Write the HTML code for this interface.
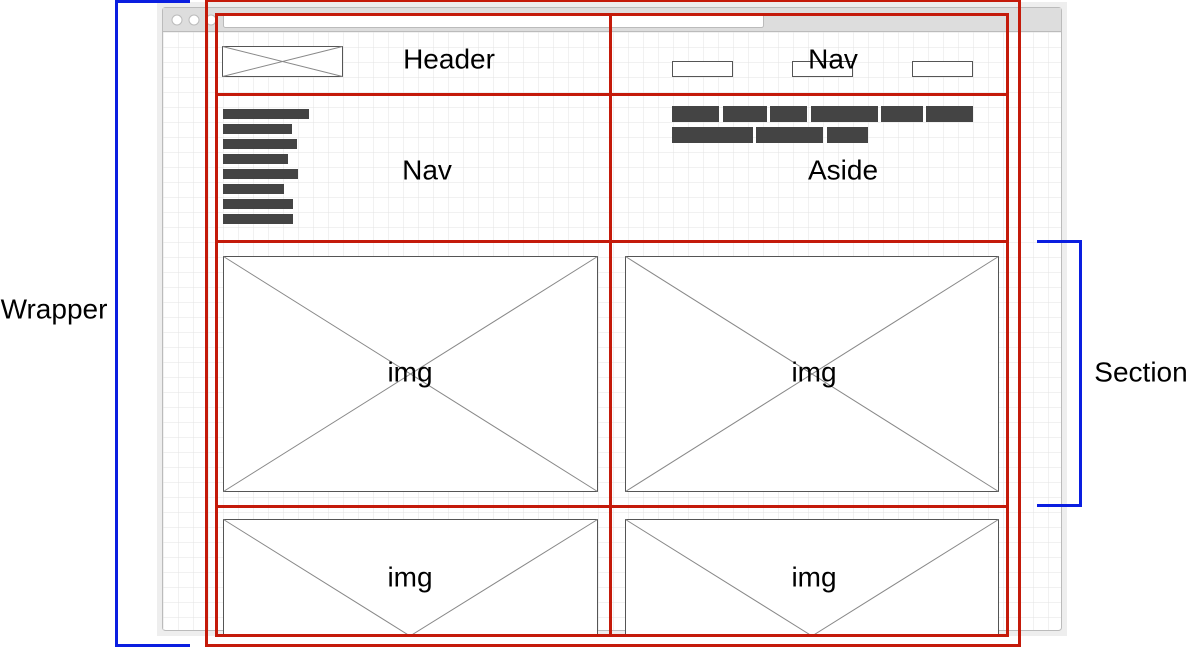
<!DOCTYPE html>
<html><head><meta charset="utf-8"><style>
html,body{margin:0;padding:0;background:#fff;}
svg{display:block;font-family:"Liberation Sans",Arial,sans-serif;}
</style></head><body>
<svg width="1190" height="648" viewBox="0 0 1190 648">
<defs>
<pattern id="grid" width="15" height="15" patternUnits="userSpaceOnUse" x="163" y="32">
<path d="M15 0H0V15" fill="none" stroke="#e3e3e3" stroke-width="1"/>
</pattern>
</defs>
<g>
<rect x="157" y="2" width="910" height="634" fill="#eee"/>
<rect x="162.5" y="7.5" width="899" height="623" rx="3" fill="#fff" stroke="#bbb"/>
<rect x="163" y="32" width="898" height="598" fill="url(#grid)"/>
<rect x="163" y="8" width="898" height="23" fill="#ddd"/>
<line x1="163" y1="31.5" x2="1061" y2="31.5" stroke="#bbb"/>
<circle cx="177" cy="20" r="5" fill="#fff" stroke="#bbb"/>
<circle cx="194" cy="20" r="5" fill="#fff" stroke="#bbb"/>
<circle cx="211" cy="20" r="5" fill="#fff" stroke="#bbb"/>
<rect x="223.5" y="13.5" width="540" height="14" rx="2" fill="#fff" stroke="#bbb"/>
</g>
<g stroke="#555" fill="#fff" stroke-width="1">
<rect x="222.5" y="46.5" width="120" height="30"/>
<line x1="222.5" y1="46.5" x2="342.5" y2="76.5" stroke="#888"/><line x1="342.5" y1="46.5" x2="222.5" y2="76.5" stroke="#888"/>
<rect x="672.5" y="61.5" width="60" height="15"/>
<rect x="792.5" y="61.5" width="60" height="15"/>
<rect x="912.5" y="61.5" width="60" height="15"/>
<g><rect x="223.5" y="256.5" width="374" height="235"/><line x1="223.5" y1="256.5" x2="597.5" y2="491.5" stroke="#888"/><line x1="597.5" y1="256.5" x2="223.5" y2="491.5" stroke="#888"/></g>
<g><rect x="625.5" y="256.5" width="373" height="235"/><line x1="625.5" y1="256.5" x2="998.5" y2="491.5" stroke="#888"/><line x1="998.5" y1="256.5" x2="625.5" y2="491.5" stroke="#888"/></g>
<g><rect x="223.5" y="519.5" width="374" height="117"/><polyline points="223.5,519.5 410,636 597.5,519.5" fill="none" stroke="#888"/></g>
<g><rect x="625.5" y="519.5" width="373" height="117"/><polyline points="625.5,519.5 812,636 998.5,519.5" fill="none" stroke="#888"/></g>
</g>
<g fill="#444">
<rect x="223" y="109" width="86" height="10"/><rect x="223" y="124" width="69" height="10"/>
<rect x="223" y="139" width="74" height="10"/><rect x="223" y="154" width="65" height="10"/>
<rect x="223" y="169" width="75" height="10"/><rect x="223" y="184" width="61" height="10"/>
<rect x="223" y="199" width="70" height="10"/><rect x="223" y="214" width="70" height="10"/>
</g>
<g fill="#444">
<rect x="672" y="106" width="47" height="16"/><rect x="723" y="106" width="44" height="16"/>
<rect x="770" y="106" width="37" height="16"/><rect x="811" y="106" width="67" height="16"/>
<rect x="881" y="106" width="42" height="16"/><rect x="926" y="106" width="47" height="16"/>
<rect x="672" y="127" width="81" height="16"/><rect x="756" y="127" width="67" height="16"/>
<rect x="827" y="127" width="41" height="16"/>
</g>
<g fill="none" stroke="#c41a0a" stroke-width="3">
<rect x="206.5" y="0.5" width="813" height="645"/>
<rect x="216.5" y="14.5" width="791" height="621"/>
<line x1="216" y1="94.5" x2="1008" y2="94.5"/>
<line x1="216" y1="241.5" x2="1008" y2="241.5"/>
<line x1="216" y1="506.5" x2="1008" y2="506.5"/>
<line x1="610.5" y1="14" x2="610.5" y2="636"/>
</g>
<polyline points="190,1.5 116.5,1.5 116.5,645.5 190,645.5" fill="none" stroke="#0a1ee0" stroke-width="3"/>
<polyline points="1037,241.5 1080.5,241.5 1080.5,505.5 1037,505.5" fill="none" stroke="#0a1ee0" stroke-width="3"/>
<g font-size="28" fill="#000" text-anchor="middle" dominant-baseline="central">
<text x="449" y="59">Header</text>
<text x="833" y="59">Nav</text>
<text x="427" y="170">Nav</text>
<text x="843" y="170">Aside</text>
<text x="410" y="372">img</text>
<text x="814" y="372">img</text>
<text x="410" y="577">img</text>
<text x="814" y="577">img</text>
<text x="54" y="309">Wrapper</text>
<text x="1141" y="372">Section</text>
</g>
</svg>
</body></html>
